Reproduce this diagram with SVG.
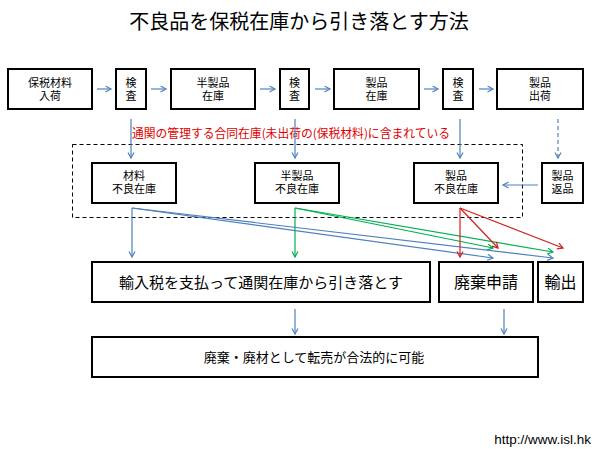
<svg xmlns="http://www.w3.org/2000/svg" width="601" height="449" viewBox="0 0 601 449">
<style>
.box{fill:#fff;stroke:#000;stroke-width:2}
.lbl{font-family:"Liberation Sans","Noto Sans CJK JP","Noto Sans CJK SC",sans-serif;font-size:11px;fill:#000;text-anchor:middle}
.big{font-family:"Noto Sans CJK JP","Noto Sans CJK SC",sans-serif;fill:#000;text-anchor:middle}
.b{stroke:#4f81bd;stroke-width:1.2;fill:none}
.g{stroke:#00b050;stroke-width:1.2;fill:none}
.r{stroke:#d02020;stroke-width:1.2;fill:none}
</style>
<defs>
<marker id="ab" markerUnits="userSpaceOnUse" markerWidth="10" markerHeight="10" refX="6" refY="3.5" orient="auto"><path d="M0.5,0.5 L6,3.5 L0.5,6.5" fill="none" stroke="#4f81bd" stroke-width="1.2"/></marker>
<marker id="ag" markerUnits="userSpaceOnUse" markerWidth="10" markerHeight="10" refX="6" refY="3.5" orient="auto"><path d="M0.5,0.5 L6,3.5 L0.5,6.5" fill="none" stroke="#00b050" stroke-width="1.2"/></marker>
<marker id="ar" markerUnits="userSpaceOnUse" markerWidth="10" markerHeight="10" refX="6" refY="3.5" orient="auto"><path d="M0.5,0.5 L6,3.5 L0.5,6.5" fill="none" stroke="#d02020" stroke-width="1.2"/></marker>
</defs>
<rect width="601" height="449" fill="#fff"/>
<text x="299" y="29" class="big" font-size="20">不良品を保税在庫から引き落とす方法</text>
<text x="132" y="138" font-family="Noto Sans CJK JP, Noto Sans CJK SC, sans-serif" font-size="12" fill="#e00000" textLength="318" lengthAdjust="spacingAndGlyphs">通関の管理する合同在庫(未出荷の(保税材料)に含まれている</text>
<rect id="zone" x="72.5" y="144.5" width="450" height="73" fill="none" stroke="#000" stroke-width="1" stroke-dasharray="4,3"/>

<g id="n1"><rect class="box" x="8" y="69" width="84" height="40"/><text class="lbl"><tspan x="50" y="87">保税材料</tspan><tspan x="50" y="100">入荷</tspan></text></g>
<g id="n2"><rect class="box" x="116" y="69" width="30" height="40"/><text class="lbl"><tspan x="131" y="87">検</tspan><tspan x="131" y="100">査</tspan></text></g>
<g id="n3"><rect class="box" x="171" y="69" width="84" height="40"/><text class="lbl"><tspan x="213" y="87">半製品</tspan><tspan x="213" y="100">在庫</tspan></text></g>
<g id="n4"><rect class="box" x="280" y="69" width="29" height="40"/><text class="lbl"><tspan x="294.5" y="87">検</tspan><tspan x="294.5" y="100">査</tspan></text></g>
<g id="n5"><rect class="box" x="334" y="69" width="85" height="40"/><text class="lbl"><tspan x="376.5" y="87">製品</tspan><tspan x="376.5" y="100">在庫</tspan></text></g>
<g id="n6"><rect class="box" x="443" y="69" width="30" height="40"/><text class="lbl"><tspan x="458" y="87">検</tspan><tspan x="458" y="100">査</tspan></text></g>
<g id="n7"><rect class="box" x="497" y="69" width="86" height="40"/><text class="lbl"><tspan x="540" y="87">製品</tspan><tspan x="540" y="100">出荷</tspan></text></g>

<g id="n8"><rect class="box" x="92" y="163" width="84" height="40"/><text class="lbl"><tspan x="134" y="180">材料</tspan><tspan x="134" y="193">不良在庫</tspan></text></g>
<g id="n9"><rect class="box" x="255" y="163" width="84" height="40"/><text class="lbl"><tspan x="297" y="180">半製品</tspan><tspan x="297" y="193">不良在庫</tspan></text></g>
<g id="n10"><rect class="box" x="414" y="163" width="84" height="40"/><text class="lbl"><tspan x="456" y="180">製品</tspan><tspan x="456" y="193">不良在庫</tspan></text></g>
<g id="n11"><rect class="box" x="542" y="163" width="41" height="40"/><text class="lbl"><tspan x="562.5" y="180">製品</tspan><tspan x="562.5" y="193">返品</tspan></text></g>

<g id="n12"><rect class="box" x="92" y="262" width="338" height="40"/><text class="big" x="261" y="288" font-size="15">輸入税を支払って通関在庫から引き落とす</text></g>
<g id="n13"><rect class="box" x="439" y="262" width="94" height="40"/><text class="big" x="486" y="288" font-size="16">廃棄申請</text></g>
<g id="n14"><rect class="box" x="538" y="262" width="45" height="40"/><text class="big" x="560.5" y="288" font-size="16">輸出</text></g>

<g id="n15"><rect class="box" x="92" y="337" width="446" height="40"/><text class="big" x="314" y="362" font-size="13">廃棄・廃材として転売が合法的に可能</text></g>

<text x="591" y="444" font-family="Liberation Sans, Arial, sans-serif" font-size="13.5" fill="#000" text-anchor="end">http://www.isl.hk</text>

<g id="connectors">
<line class="b" x1="97" y1="89" x2="111" y2="89" marker-end="url(#ab)"/>
<line class="b" x1="151" y1="89" x2="166" y2="89" marker-end="url(#ab)"/>
<line class="b" x1="260" y1="89" x2="275" y2="89" marker-end="url(#ab)"/>
<line class="b" x1="315" y1="89" x2="330" y2="89" marker-end="url(#ab)"/>
<line class="b" x1="424" y1="89" x2="438" y2="89" marker-end="url(#ab)"/>
<line class="b" x1="479" y1="89" x2="493" y2="89" marker-end="url(#ab)"/>
<line class="b" x1="131" y1="119" x2="131" y2="158" marker-end="url(#ab)"/>
<line class="b" x1="295" y1="119" x2="295" y2="158" marker-end="url(#ab)"/>
<line class="b" x1="460" y1="119" x2="460" y2="158" marker-end="url(#ab)"/>
<line class="b" x1="558" y1="119" x2="558" y2="158" stroke-dasharray="4,3" marker-end="url(#ab)"/>
<line class="b" x1="538" y1="185" x2="503" y2="185" marker-end="url(#ab)"/>
<line class="b" x1="132" y1="208" x2="132" y2="257" marker-end="url(#ab)"/>
<line class="b" x1="132" y1="208" x2="493" y2="258" marker-end="url(#ab)"/>
<line class="b" x1="132" y1="208" x2="553" y2="258" marker-end="url(#ab)"/>
<line class="g" x1="295" y1="208" x2="295" y2="257" marker-end="url(#ag)"/>
<line class="g" x1="295" y1="208" x2="493" y2="248" marker-end="url(#ag)"/>
<line class="g" x1="295" y1="208" x2="553" y2="252" marker-end="url(#ag)"/>
<line class="r" x1="460" y1="208" x2="460" y2="257" marker-end="url(#ar)"/>
<line class="r" x1="460" y1="208" x2="498" y2="248" marker-end="url(#ar)"/>
<line class="r" x1="460" y1="208" x2="563" y2="248" marker-end="url(#ar)"/>
<line class="b" x1="295" y1="309" x2="295" y2="334" marker-end="url(#ab)"/>
<line class="b" x1="504" y1="309" x2="504" y2="334" marker-end="url(#ab)"/>
</g>
</svg>
